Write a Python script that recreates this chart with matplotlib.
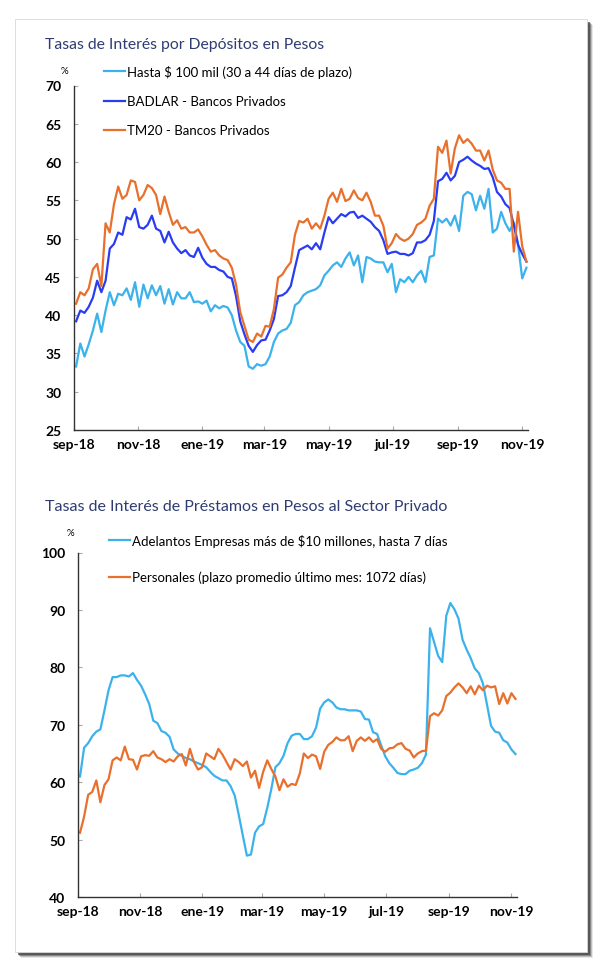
import numpy as np
import pandas as pd
import matplotlib
matplotlib.use('Agg')
import matplotlib.pyplot as plt
from matplotlib.patches import Rectangle

plt.rcParams['font.family'] = ['Lato', 'DejaVu Sans']

# Depositos (cada 4 dias desde 03-sep-2018)
hasta_100 = [33.3, 36.3, 34.6, 36.2, 38.0, 40.2, 37.8, 40.6, 43.0, 41.3,
             42.8, 42.6, 43.5, 42.0, 44.3, 41.1, 44.0, 42.2, 43.9, 42.6,
             43.8, 41.5, 43.4, 41.4, 43.0, 42.2, 42.2, 43.0, 41.7, 41.8,
             41.5, 41.9, 40.5, 41.3, 40.9, 41.2, 41.0, 40.0, 38.0, 36.5,
             36.0, 33.3, 33.0, 33.6, 33.4, 33.6, 34.6, 36.5, 37.6, 38.0,
             38.2, 39.0, 41.3, 41.7, 42.6, 43.0, 43.2, 43.4, 43.9, 45.2,
             45.8, 46.5, 46.9, 46.3, 47.4, 48.2, 46.5, 47.8, 44.3, 47.6,
             47.4, 47.0, 46.9, 46.9, 45.6, 46.7, 43.0, 44.7, 44.3, 45.0,
             44.3, 45.2, 45.8, 44.3, 47.6, 47.8, 52.6, 52.1, 52.6, 51.7,
             53.0, 51.0, 55.6, 56.1, 55.8, 53.7, 55.6, 53.9, 56.5, 50.8,
             51.3, 53.5, 52.0, 51.0, 52.1, 49.3, 44.8, 46.2]
badlar = [39.2, 40.6, 40.3, 41.1, 42.3, 44.5, 43.0, 44.5, 48.7, 49.3,
          50.8, 50.5, 52.8, 52.5, 53.9, 51.5, 51.3, 51.8, 53.0, 51.3,
          51.0, 49.5, 50.9, 49.5, 48.7, 48.1, 48.5, 47.8, 47.6, 48.8,
          47.5, 46.7, 46.3, 46.3, 45.9, 45.7, 45.0, 44.8, 42.5, 39.2,
          37.5, 36.0, 35.2, 36.1, 36.7, 36.8, 38.0, 39.5, 42.5, 42.6,
          43.0, 43.8, 46.2, 48.5, 48.8, 49.1, 48.6, 49.4, 48.6, 50.8,
          52.8, 52.0, 52.6, 53.2, 52.9, 53.4, 53.5, 52.7, 53.0, 52.6,
          52.2, 51.5, 51.0, 49.8, 48.0, 48.2, 48.3, 48.0, 48.0, 47.8,
          48.1, 49.5, 49.5, 49.8, 50.5, 52.3, 57.5, 57.8, 58.6, 57.6,
          58.2, 60.0, 60.3, 60.7, 60.2, 59.8, 59.5, 59.1, 59.2, 58.0,
          56.1, 55.5, 54.5, 54.0, 51.8, 49.2, 48.0, 47.0]
tm20 = [41.5, 43.0, 42.6, 43.5, 46.0, 46.7, 43.8, 52.0, 50.8, 54.5,
        56.8, 55.2, 55.7, 57.6, 57.4, 55.0, 55.7, 57.0, 56.6, 55.7,
        53.2, 55.5, 53.5, 51.8, 52.4, 51.3, 51.5, 50.8, 50.8, 51.2,
        50.3, 49.2, 48.3, 48.5, 47.8, 47.4, 47.2, 46.2, 44.0, 40.4,
        38.6, 36.8, 36.5, 37.6, 37.2, 38.6, 38.5, 40.8, 44.9, 45.3,
        46.2, 46.9, 50.5, 52.3, 52.1, 52.6, 51.3, 52.0, 51.3, 53.0,
        55.2, 56.0, 54.8, 56.5, 54.9, 55.2, 56.3, 55.3, 55.0, 56.0,
        54.8, 53.0, 53.0, 51.7, 48.7, 49.4, 50.6, 50.0, 49.7, 50.0,
        50.6, 51.8, 52.1, 52.6, 54.3, 55.2, 62.0, 61.2, 62.8, 58.5,
        61.8, 63.5, 62.5, 63.0, 62.4, 61.5, 61.5, 60.2, 61.5, 59.0,
        57.6, 57.3, 56.5, 56.5, 48.3, 53.5, 49.0, 47.0]

# Prestamos
adelantos = [61.0, 66.0, 66.8, 68.0, 68.8, 69.2, 72.5, 76.0, 78.3, 78.3,
             78.6, 78.6, 78.4, 79.0, 77.8, 76.8, 75.3, 73.6, 70.7, 70.3,
             68.9, 68.6, 67.9, 65.7, 65.0, 64.6, 64.2, 64.0, 63.6, 63.3,
             63.0, 62.6, 61.8, 61.1, 60.7, 60.3, 60.3, 59.3, 57.7, 54.3,
             50.7, 47.2, 47.4, 51.2, 52.3, 52.7, 55.5, 58.8, 62.6, 63.3,
             64.6, 66.8, 68.1, 68.4, 68.4, 67.5, 67.5, 68.0, 69.5, 72.8,
             73.9, 74.4, 73.9, 73.0, 72.7, 72.7, 72.5, 72.5, 72.5, 72.3,
             71.0, 70.9, 68.7, 68.4, 66.4, 64.5, 63.3, 62.5, 61.6, 61.4,
             61.4, 62.0, 62.2, 62.5, 63.3, 64.8, 86.8, 84.4, 82.0, 80.9,
             89.0, 91.2, 90.1, 88.5, 84.8, 83.1, 81.6, 79.8, 79.0, 77.2,
             73.5, 69.8, 68.8, 68.6, 67.3, 66.9, 65.7, 64.9]
personales = [51.2, 54.0, 57.8, 58.3, 60.3, 56.5, 59.5, 60.5, 63.8, 64.3,
              63.8, 66.2, 64.0, 63.9, 62.2, 64.5, 64.7, 64.6, 65.4, 64.3,
              64.0, 63.5, 64.0, 63.6, 64.5, 64.9, 62.9, 65.8, 63.5, 62.2,
              62.6, 65.0, 64.5, 64.0, 65.8, 64.8, 63.5, 62.2, 64.0, 63.5,
              62.8, 63.6, 60.8, 62.0, 59.0, 61.8, 63.8, 62.3, 61.0, 58.6,
              60.5, 59.2, 59.7, 59.5, 61.5, 65.0, 64.2, 64.8, 64.5, 62.3,
              65.3, 66.5, 67.0, 67.8, 67.3, 67.3, 68.0, 65.4, 67.2, 67.8,
              67.2, 67.8, 67.0, 67.5, 65.8, 65.3, 65.9, 66.0, 66.6, 66.8,
              65.8, 65.5, 64.3, 65.0, 65.4, 65.5, 71.5, 72.0, 71.6, 72.5,
              75.0, 75.6, 76.5, 77.2, 76.5, 75.5, 76.7, 75.3, 76.8, 76.0,
              76.8, 76.5, 76.7, 73.6, 75.5, 73.7, 75.5, 74.5]

tick_dates = ['2018-09-01', '2018-11-01', '2019-01-01', '2019-03-01',
              '2019-05-01', '2019-07-01', '2019-09-01', '2019-11-01']
tick_labels = ['sep-18', 'nov-18', 'ene-19', 'mar-19',
               'may-19', 'jul-19', 'sep-19', 'nov-19']

dates = pd.date_range('2018-09-03', periods=len(hasta_100), freq='4D')

c_light = '#3BB2EC'
c_dark = '#2A3CF2'
c_orange = '#E8702C'
title_color = '#2F3C72'

W, H = 601, 970
fig = plt.figure(figsize=(W / 100, H / 100), dpi=100)

# marco con sombra
for k, a in enumerate([0.12, 0.25, 0.45, 0.7]):
    off = 6 - k
    fig.patches.append(Rectangle(((15 + off) / W, (H - 953 - off) / H), 572 / W, 933 / H,
                                 transform=fig.transFigure, facecolor='#444444',
                                 edgecolor='none', alpha=a, zorder=0))
fig.patches.append(Rectangle((15 / W, (H - 953) / H), 572 / W, 933 / H,
                             transform=fig.transFigure, facecolor='white',
                             edgecolor='#d8d8d8', lw=0.6, zorder=1))


def style_axes(ax, ymin, ymax, ystep):
    ax.set_zorder(3)
    ax.set_facecolor('none')
    ax.set_ylim(ymin, ymax)
    ax.set_yticks(np.arange(ymin, ymax + 1, ystep))
    ax.set_xlim(pd.Timestamp('2018-09-01'), pd.Timestamp('2019-11-06 12:00'))
    ax.set_xticks(pd.to_datetime(tick_dates))
    ax.set_xticklabels(tick_labels)
    for s in ['top', 'right']:
        ax.spines[s].set_visible(False)
    for s in ['left', 'bottom']:
        ax.spines[s].set_color('#333333')
        ax.spines[s].set_linewidth(1.0)
    ax.tick_params(direction='in', length=3, color='#aaaaaa', width=0.8, labelsize=10)
    ax.tick_params(axis='y', pad=9)
    ax.tick_params(axis='x', pad=6)
    for lab in ax.get_xticklabels() + ax.get_yticklabels():
        lab.set_fontweight('bold')


# grafico superior
ax1 = fig.add_axes([74 / W, 1 - 431 / H, 454 / W, 344.5 / H])
ax1.plot(dates, hasta_100, color=c_light, lw=1.6, label='Hasta $ 100 mil (30 a 44 días de plazo)')
ax1.plot(dates, badlar, color=c_dark, lw=1.6, label='BADLAR - Bancos Privados')
ax1.plot(dates, tm20, color=c_orange, lw=1.6, label='TM20 - Bancos Privados')
style_axes(ax1, 25, 70, 5)
ax1.legend(loc='upper left', bbox_to_anchor=(104 / W, 1 - 66 / H), bbox_transform=fig.transFigure,
           frameon=False, fontsize=9.5, handlelength=1.6, handletextpad=0.15,
           labelspacing=1.3, borderpad=0, borderaxespad=0)
fig.text(45 / W, 1 - 45 / H, 'Tasas de Interés por Depósitos en Pesos', color=title_color,
         fontsize=11.3, va='center', ha='left', zorder=4)
fig.text(64 / W, 1 - 71 / H, '%', fontsize=7, va='center', ha='center', zorder=4)

# grafico inferior
ax2 = fig.add_axes([78 / W, 1 - 898 / H, 439 / W, 344.5 / H])
ax2.plot(dates, adelantos, color=c_light, lw=1.6,
         label='Adelantos Empresas más de $10 millones, hasta 7 días')
ax2.plot(dates, personales, color=c_orange, lw=1.6,
         label='Personales (plazo promedio último mes: 1072 días)')
style_axes(ax2, 40, 100, 10)
ax2.legend(loc='upper left', bbox_to_anchor=(109 / W, 1 - 535 / H), bbox_transform=fig.transFigure,
           frameon=False, fontsize=9.5, handlelength=1.6, handletextpad=0.15,
           labelspacing=1.8, borderpad=0, borderaxespad=0)
fig.text(45 / W, 1 - 507 / H, 'Tasas de Interés de Préstamos en Pesos al Sector Privado',
         color=title_color, fontsize=11.5, va='center', ha='left', zorder=4)
fig.text(70 / W, 1 - 534 / H, '%', fontsize=7, va='center', ha='center', zorder=4)

fig.savefig('out.png', dpi=100, facecolor='white')
